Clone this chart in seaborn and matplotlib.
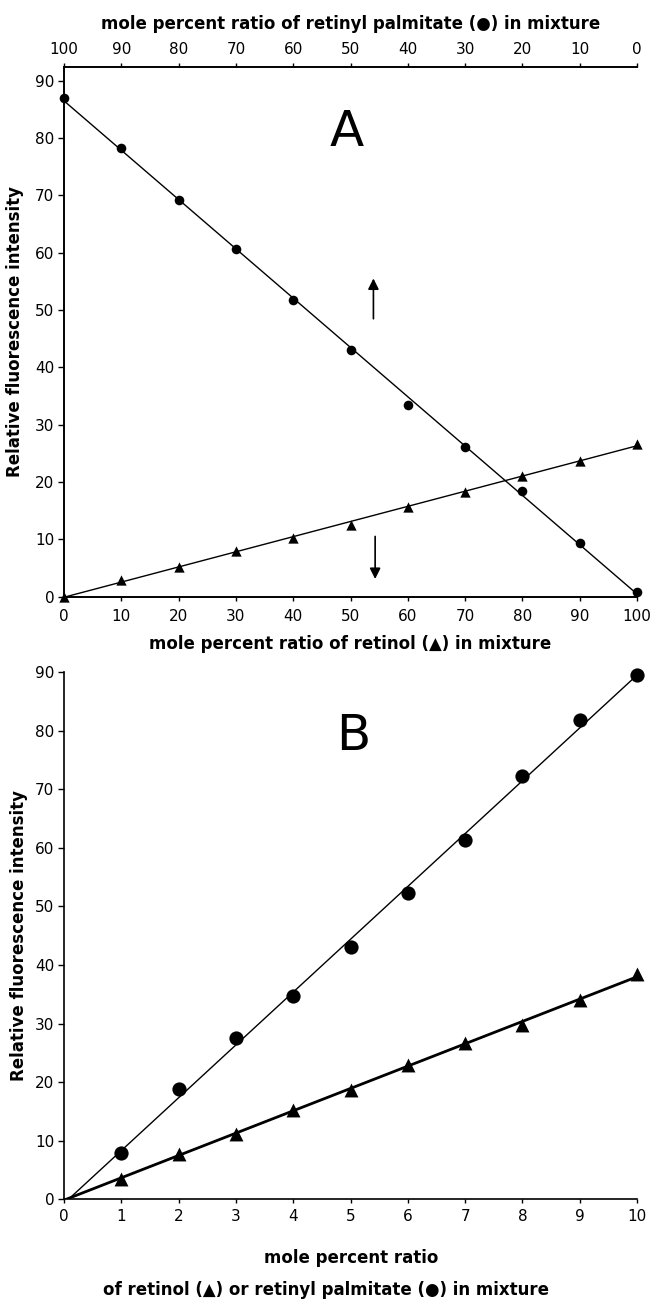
import matplotlib
matplotlib.use("Agg")
import matplotlib.pyplot as plt
import seaborn as sns
import numpy as np

# == DATA ==
# Panel A: mixtures, x = mole % retinol (top axis = 100 - x, retinyl palmitate)
mix_retinol_pct = [0, 10, 20, 30, 40, 50, 60, 70, 80, 90, 100]
mix_palmitate_fl = [87.0, 78.3, 69.2, 60.7, 51.7, 43.1, 33.5, 26.2, 18.4, 9.4, 0.8]
mix_retinol_fl = [0.0, 2.9, 5.1, 8.0, 10.3, 12.5, 15.7, 18.3, 21.1, 23.7, 26.7]

# Panel B: single compound, x = mole percent ratio
ratio_pct = [1, 2, 3, 4, 5, 6, 7, 8, 9, 10]
palmitate_fl = [7.9, 18.8, 27.5, 34.7, 43.0, 52.2, 61.3, 72.2, 81.8, 89.5]
retinol_fl = [3.5, 7.75, 11.2, 15.3, 18.7, 23.0, 26.6, 29.8, 34.0, 38.4]

a_ticks = list(range(0, 101, 10))
b_ticks = list(range(0, 11))
y_ticks = list(range(0, 91, 10))

YLABEL = "Relative fluorescence intensity"

# == STYLE ==
sns.set_style("ticks")
plt.rcParams["font.family"] = ["DejaVu Sans"]
plt.rcParams["axes.linewidth"] = 1.2
plt.rcParams["xtick.major.width"] = 1.0
plt.rcParams["ytick.major.width"] = 1.0
for key in ("text.color", "axes.labelcolor", "xtick.color", "ytick.color",
            "axes.edgecolor"):
    plt.rcParams[key] = "black"

W, H = 653, 1302
fig = plt.figure(figsize=(W / 100, H / 100), dpi=100)

# axes boxes in pixels (left, top, right, bottom)
def px_axes(l, t, r, b):
    return fig.add_axes([l / W, 1 - b / H, (r - l) / W, (b - t) / H])

axA = px_axes(64, 67, 637, 596.7)
axB = px_axes(64, 672, 637, 1199.3)

label_kw = dict(fontsize=12, fontweight="bold")
dot_kw = dict(clip_on=False, zorder=3, linewidths=0, alpha=1)

# == PANEL A ==
axA.set_xlim(0, 100)
axA.set_ylim(0, 92.4)
sns.regplot(x=mix_retinol_pct, y=mix_palmitate_fl, ax=axA, ci=None, marker="o",
            color="black", truncate=False,
            scatter_kws=dict(s=48, **dot_kw), line_kws=dict(lw=1.0))
sns.regplot(x=mix_retinol_pct, y=mix_retinol_fl, ax=axA, ci=None, marker="^",
            color="black", truncate=False,
            scatter_kws=dict(s=55, **dot_kw), line_kws=dict(lw=1.0))
axA.set_xlim(0, 100)
axA.set_ylim(0, 92.4)
axA.set_xticks(a_ticks)
axA.set_yticks(y_ticks)
axA.tick_params(axis="both", labelsize=11, length=4, pad=3)
axA.tick_params(axis="x", length=3, pad=6)
axA.spines["right"].set_visible(False)
axA.set_xlabel("mole percent ratio of retinol (\u25B2) in mixture", **label_kw)
axA.xaxis.set_label_coords(0.5, -0.072)
axA.set_ylabel(YLABEL, **label_kw)
axA.yaxis.set_label_coords(-0.07, 0.5)

top = axA.twiny()
top.set_xlim(100, 0)
top.set_xticks(a_ticks)
top.tick_params(axis="x", labelsize=11, length=3, pad=4)
top.spines["right"].set_visible(False)
top.set_xlabel("mole percent ratio of retinyl palmitate (\u25CF) in mixture", **label_kw)
top.xaxis.set_label_coords(0.5, 1.072)

axA.text(49.4, 81, "A", fontsize=36, ha="center", va="center")
arrow_kw = dict(arrowstyle="-|>", color="black", lw=1.2, mutation_scale=16)
axA.annotate("", xy=(54, 56), xytext=(54, 48), arrowprops=arrow_kw)
axA.annotate("", xy=(54.3, 2.6), xytext=(54.3, 11), arrowprops=arrow_kw)

# == PANEL B ==
axB.set_xlim(0, 10)
axB.set_ylim(0, 90)
sns.regplot(x=ratio_pct, y=palmitate_fl, ax=axB, ci=None, marker="o",
            color="black", truncate=False,
            scatter_kws=dict(s=105, **dot_kw), line_kws=dict(lw=1.0))
sns.regplot(x=ratio_pct, y=retinol_fl, ax=axB, ci=None, marker="^",
            color="black", truncate=False,
            scatter_kws=dict(s=100, **dot_kw), line_kws=dict(lw=2.0))
axB.set_xlim(0, 10)
axB.set_ylim(0, 90)
axB.set_xticks(b_ticks)
axB.set_yticks(y_ticks)
axB.tick_params(axis="both", labelsize=11, length=4, pad=3)
axB.tick_params(axis="x", length=3, pad=4)
sns.despine(ax=axB)
axB.set_xlabel("mole percent ratio", **label_kw)
axB.xaxis.set_label_coords(0.502, -0.095)
axB.text(0.457, -0.172, "of retinol (\u25B2) or retinyl palmitate (\u25CF) in mixture",
         transform=axB.transAxes, ha="center", va="center", **label_kw)
axB.set_ylabel(YLABEL, **label_kw)
axB.yaxis.set_label_coords(-0.062, 0.5)
axB.text(5.04, 79, "B", fontsize=36, ha="center", va="center")

fig.savefig("out.png", dpi=100)
